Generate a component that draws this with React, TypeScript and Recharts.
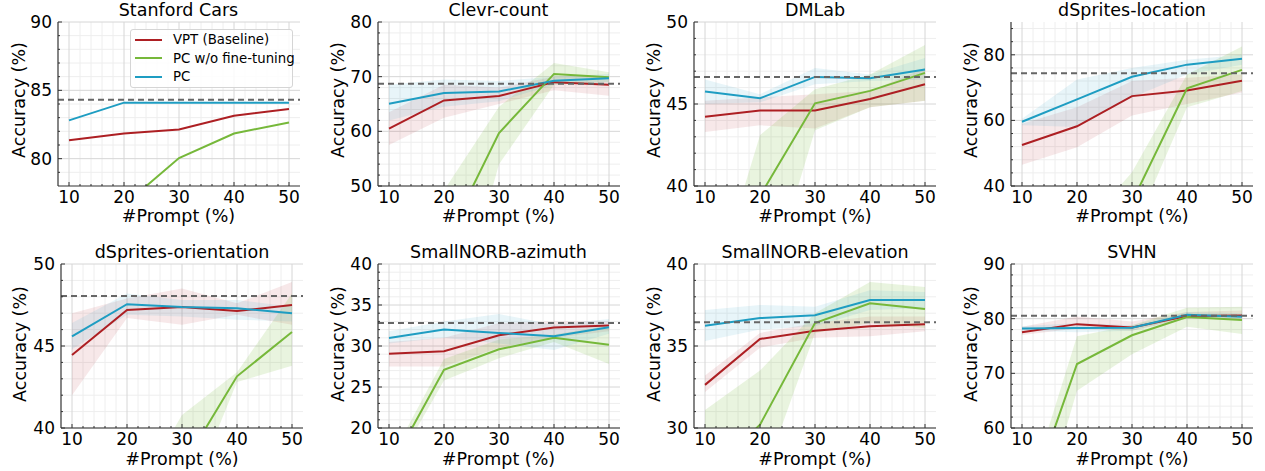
import React from "react";
import {
  ComposedChart,
  Line,
  Area,
  XAxis,
  YAxis,
  CartesianGrid,
  ReferenceLine,
} from "recharts";

// x values (% of prompts)
const prompts = [10, 20, 30, 40, 50];
const xMajor = [10, 20, 30, 40, 50];
const xMinor = [12, 14, 16, 18, 22, 24, 26, 28, 32, 34, 36, 38, 42, 44, 46, 48];

const titles = [
  "Stanford Cars",
  "Clevr-count",
  "DMLab",
  "dSprites-location",
  "dSprites-orientation",
  "SmallNORB-azimuth",
  "SmallNORB-elevation",
  "SVHN",
];

const yDomains = [
  [78, 90], [50, 80], [40, 50], [40, 90],
  [40, 50], [20, 40], [30, 40], [60, 90],
];
const yTicks = [
  [80, 85, 90], [50, 60, 70, 80], [40, 45, 50], [40, 60, 80],
  [40, 45, 50], [20, 25, 30, 35, 40], [30, 35, 40], [60, 70, 80, 90],
];

const seriesNames = ["VPT (Baseline)", "PC w/o fine-tuning", "PC"];

// mean accuracy per panel, at 10/20/30/40/50
const vptMean = [
  [81.35, 81.84, 82.13, 83.14, 83.63],
  [60.5, 65.65, 66.45, 69.0, 68.5],
  [44.22, 44.6, 44.6, 45.3, 46.2],
  [52.5, 58.2, 67.4, 69.1, 72.1],
  [44.45, 47.2, 47.38, 47.13, 47.5],
  [29.07, 29.35, 31.3, 32.27, 32.5],
  [32.63, 35.43, 35.93, 36.2, 36.33],
  [77.5, 79.0, 78.4, 80.5, 80.6],
];
const noFtMean = [
  [72.0, 76.6, 80.05, 81.84, 82.65],
  [25.0, 39.2, 59.7, 70.5, 69.9],
  [33.0, 39.4, 45.04, 45.8, 46.9],
  [10.0, 15.0, 35.1, 69.8, 75.4],
  [25.0, 30.0, 37.6, 43.15, 45.85],
  [14.9, 27.1, 29.6, 31.0, 30.15],
  [27.0, 30.2, 36.4, 37.6, 37.25],
  [42.9, 71.7, 76.96, 80.3, 79.76],
];
const pcMean = [
  [82.8, 84.1, 84.1, 84.1, 84.1],
  [65.04, 67.0, 67.3, 69.27, 69.7],
  [45.76, 45.35, 46.65, 46.57, 47.1],
  [59.6, 66.4, 73.3, 77.0, 78.8],
  [45.59, 47.55, 47.38, 47.3, 47.0],
  [30.98, 32.0, 31.6, 31.2, 32.3],
  [36.23, 36.7, 36.87, 37.8, 37.8],
  [78.2, 78.3, 78.36, 80.73, 80.36],
];

// full fine-tuning reference (dashed)
const baseline = [84.31, 68.7, 46.65, 74.4, 48.05, 32.8, 36.45, 80.55];

// [low, high] spread
const vptBand = [
  null,
  [[57.5, 63.5], [62.5, 68.5], [65, 68], [67.5, 70], [66.5, 70]],
  [[43.3, 45.2], [43.7, 45.4], [43.5, 45.6], [44.8, 45.8], [45.2, 47.2]],
  [[46.5, 59], [51.8, 64], [61.5, 72], [65, 73], [68.5, 74]],
  [[42.0, 47.0], [46.7, 47.9], [46.3, 48.5], [46.9, 47.6], [46.3, 48.9]],
  [[27.5, 30.5], [27.5, 31.0], [29.8, 32.8], [31.0, 33.0], [31.8, 33.0]],
  [[32.2, 33.2], [34.9, 35.8], [35.5, 36.4], [35.6, 36.8], [35.9, 36.8]],
  [[77, 78.5], [78.2, 80.4], [77.8, 79.5], [80, 81.2], [80, 81.5]],
];
const noFtBand = [
  null,
  [[5, 35], [18, 49.2], [54, 64.5], [68.5, 72.5], [69, 70.8]],
  [[25, 32], [32.3, 43.1], [43.4, 45.9], [44.8, 46.8], [45.2, 48.6]],
  [[3, 17], [5, 25], [25.3, 44.2], [64, 74], [69, 82.5]],
  [[20, 30], [25, 35], [34.6, 40.8], [42.8, 43.4], [43.8, 48.2]],
  [[14, 15.9], [25.8, 28.4], [28.5, 30.8], [30.5, 31.4], [27.8, 32.5]],
  [[22, 31.1], [26.4, 33.5], [35.8, 37], [36.4, 38.9], [36.1, 38.6]],
  [[32.8, 44.5], [66.8, 76.8], [73.5, 78.8], [78.5, 82], [77.2, 82.2]],
];
const pcBand = [
  null,
  [[62, 68.5], [64.5, 69.5], [65.5, 69.2], [68.5, 70], [69, 70.5]],
  [[45.0, 46.5], [45.1, 45.6], [46.2, 47.2], [46.4, 46.8], [46.5, 47.8]],
  [[58.5, 60.5], [58, 72.5], [67, 76], [74, 78.5], [77, 80]],
  [[44.8, 46.4], [46.9, 48.2], [46.8, 47.8], [46.6, 47.8], [46.5, 47.4]],
  [[30.3, 31.8], [31.0, 33.0], [30.3, 33.9], [29.5, 32.6], [31.5, 33.3]],
  [[35.3, 37.2], [36.0, 37.5], [36.2, 37.4], [37.2, 38.4], [37.3, 38.3]],
  [[77.8, 78.6], [77.5, 79.2], [77.8, 78.8], [80.3, 81.2], [80, 81]],
];

// layout
const PLOT_W = 242;
const PLOT_H = 164;
const YW = 50;
const MT = 14;
const MR = 4;
const XH = 30;
const plotLeft = [57.5, 377.5, 694, 1011, 61, 377.5, 694, 1011];
const plotTop = [21.5, 21.5, 21.5, 21.5, 263.5, 263.5, 263.5, 263.5];
const yLabelX = [20, 338.5, 655, 972, 21, 338.5, 655, 972];

const RED = "#ad1f23";
const GREEN = "#76b83a";
const BLUE = "#1e9dc2";
const colors = [RED, GREEN, BLUE];
const FRAME = "#333";
const FONT = '"DejaVu Sans", sans-serif';

function minorTicks(domain: number[], majors: number[]) {
  const step = (majors[1] - majors[0]) / 5;
  const out: number[] = [];
  for (let v = domain[0]; v <= domain[1] + 1e-9; v += step) {
    const r = Math.round(v * 1000) / 1000;
    if (!majors.includes(r) && r > domain[0] && r < domain[1]) out.push(r);
  }
  return out;
}

function makeTick(side: string, majors: number[]) {
  return (props: any) => {
    const { x, y, payload } = props;
    const v = Math.round(payload.value * 1000) / 1000;
    const major = majors.includes(v);
    const len = major ? 4 : 2;
    let x2 = x;
    let y2 = y;
    if (side === "bottom") y2 = y - len;
    if (side === "top") y2 = y + len;
    if (side === "left") x2 = x + len;
    if (side === "right") x2 = x - len;
    return (
      <g>
        <line x1={x} y1={y} x2={x2} y2={y2} stroke={FRAME} strokeWidth={1} />
        {major && side === "bottom" && (
          <text x={x} y={y + 17} textAnchor="middle" fontSize={17} fontFamily={FONT} fill="#000">
            {v}
          </text>
        )}
        {major && side === "left" && (
          <text x={x - 6} y={y + 6} textAnchor="end" fontSize={17} fontFamily={FONT} fill="#000">
            {v}
          </text>
        )}
      </g>
    );
  };
}

function Panel({ k }: { k: number }) {
  const rows = prompts.map((p, i) => ({
    x: p,
    vpt: vptMean[k][i],
    noft: noFtMean[k][i],
    pc: pcMean[k][i],
    vptBand: vptBand[k] ? vptBand[k]![i] : undefined,
    noftBand: noFtBand[k] ? noFtBand[k]![i] : undefined,
    pcBand: pcBand[k] ? pcBand[k]![i] : undefined,
  }));
  const yMaj = yTicks[k];
  const yMin = minorTicks(yDomains[k], yMaj);
  const yAll = [...yMaj, ...yMin].sort((a, b) => a - b);
  const xAll = [...xMajor, ...xMinor].sort((a, b) => a - b);
  const left = plotLeft[k];
  const top = plotTop[k];
  const cx = left + PLOT_W / 2;
  const row = k < 4 ? 0 : 1;
  const hasBand = vptBand[k] !== null;

  return (
    <>
      <div
        style={{
          position: "absolute",
          left: cx,
          top: row === 0 ? 10.5 : 253,
          transform: "translate(-50%, -50%)",
          fontSize: 17.5,
          lineHeight: 1,
          whiteSpace: "nowrap",
        }}
      >
        {titles[k]}
      </div>
      <div
        style={{
          position: "absolute",
          left: cx,
          top: row === 0 ? 217 : 460,
          transform: "translate(-50%, -50%)",
          fontSize: 17.5,
          lineHeight: 1,
          whiteSpace: "nowrap",
        }}
      >
        #Prompt (%)
      </div>
      <div
        style={{
          position: "absolute",
          left: yLabelX[k],
          top: row === 0 ? 100 : 344,
          transform: "translate(-50%, -50%) rotate(-90deg)",
          fontSize: 17.5,
          lineHeight: 1,
          whiteSpace: "nowrap",
        }}
      >
        Accuracy (%)
      </div>
      <div style={{ position: "absolute", left: left - YW, top: top - MT }}>
        <ComposedChart
          width={YW + PLOT_W + MR}
          height={MT + PLOT_H + XH}
          data={rows}
          margin={{ top: MT, right: MR, bottom: 0, left: 0 }}
        >
          <CartesianGrid
            stroke="#eeeeee"
            strokeWidth={1}
            horizontalValues={yMin}
            verticalValues={xMinor}
          />
          <CartesianGrid
            stroke="#d6d6d6"
            strokeWidth={1}
            horizontalValues={yMaj}
            verticalValues={xMajor}
          />
          <XAxis
            dataKey="x"
            type="number"
            domain={[8, 52]}
            ticks={xAll}
            interval={0}
            allowDataOverflow
            tickLine={false}
            tickSize={0}
            tickMargin={0}
            height={XH}
            axisLine={{ stroke: FRAME, strokeWidth: 1.2 }}
            tick={makeTick("bottom", xMajor)}
          />
          <XAxis
            xAxisId="top"
            orientation="top"
            type="number"
            domain={[8, 52]}
            ticks={xAll}
            interval={0}
            allowDataOverflow
            tickLine={false}
            tickSize={0}
            tickMargin={0}
            height={0}
            axisLine={{ stroke: FRAME, strokeWidth: 1.2 }}
            tick={makeTick("top", xMajor)}
          />
          <YAxis
            type="number"
            domain={yDomains[k]}
            ticks={yAll}
            interval={0}
            allowDataOverflow
            tickLine={false}
            tickSize={0}
            tickMargin={0}
            width={YW}
            axisLine={{ stroke: FRAME, strokeWidth: 1.2 }}
            tick={makeTick("left", yMaj)}
          />
          <YAxis
            yAxisId="r"
            orientation="right"
            type="number"
            domain={yDomains[k]}
            ticks={yAll}
            interval={0}
            allowDataOverflow
            tickLine={false}
            tickSize={0}
            tickMargin={0}
            width={0}
            axisLine={{ stroke: FRAME, strokeWidth: 1.2 }}
            tick={makeTick("right", yMaj)}
          />
          {hasBand && (
            <Area
              dataKey="vptBand"
              stroke="none"
              fill={RED}
              fillOpacity={0.1}
              isAnimationActive={false}
              activeDot={false}
            />
          )}
          {hasBand && (
            <Area
              dataKey="noftBand"
              stroke="none"
              fill={GREEN}
              fillOpacity={0.16}
              isAnimationActive={false}
              activeDot={false}
            />
          )}
          {hasBand && (
            <Area
              dataKey="pcBand"
              stroke="none"
              fill={BLUE}
              fillOpacity={0.1}
              isAnimationActive={false}
              activeDot={false}
            />
          )}
          <Line dataKey="vpt" stroke={RED} strokeWidth={2} dot={false} isAnimationActive={false} />
          <Line dataKey="noft" stroke={GREEN} strokeWidth={2} dot={false} isAnimationActive={false} />
          <Line dataKey="pc" stroke={BLUE} strokeWidth={2} dot={false} isAnimationActive={false} />
          <ReferenceLine
            y={baseline[k]}
            stroke="#666"
            strokeWidth={2}
            strokeDasharray="6 4"
          />
        </ComposedChart>
      </div>
    </>
  );
}

function LegendBox() {
  return (
    <div
      style={{
        position: "absolute",
        left: 130,
        top: 28.5,
        width: 163,
        height: 59,
        boxSizing: "border-box",
        border: "1px solid #d5d5d5",
        borderRadius: 3,
        background: "rgba(255,255,255,0.85)",
      }}
    >
      {seriesNames.map((name, i) => (
        <div
          key={name}
          style={{
            position: "absolute",
            left: 0,
            top: 1 + i * 18.5,
            height: 18.5,
            display: "flex",
            alignItems: "center",
            whiteSpace: "nowrap",
          }}
        >
          <div style={{ width: 27, height: 2, background: colors[i], marginLeft: 4, marginRight: 11 }} />
          <span style={{ fontSize: 13.3, lineHeight: 1 }}>{name}</span>
        </div>
      ))}
    </div>
  );
}

export default function App() {
  return (
    <div
      style={{
        position: "absolute",
        left: 0,
        top: 0,
        width: 1265,
        height: 471,
        background: "#fff",
        fontFamily: FONT,
        color: "#000",
        overflow: "hidden",
      }}
    >
      {titles.map((_, k) => (
        <Panel key={k} k={k} />
      ))}
      <LegendBox />
    </div>
  );
}
